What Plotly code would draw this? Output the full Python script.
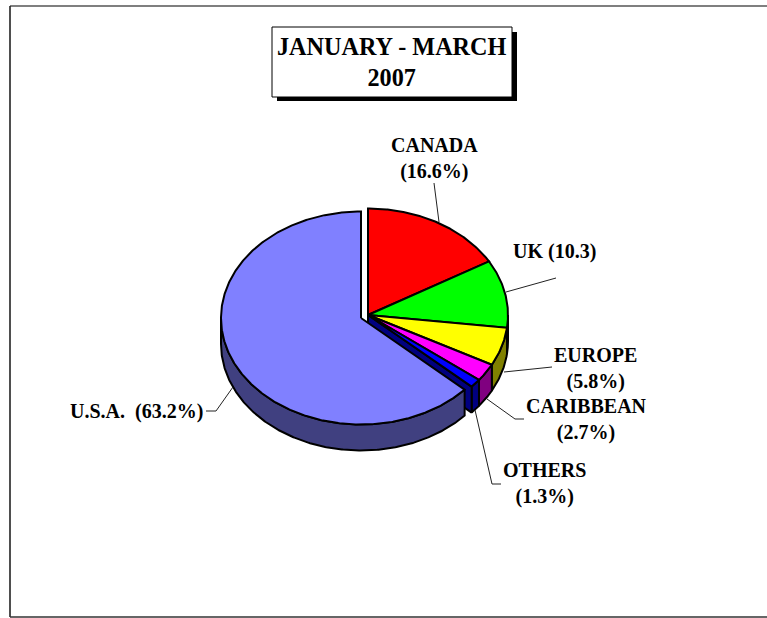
import numpy as np
import plotly.graph_objects as go

# ---- data ----
categories = ["CANADA", "UK", "EUROPE", "CARIBBEAN", "OTHERS", "U.S.A."]
shares = [16.6, 10.3, 5.8, 2.7, 1.3, 63.2]
top_colors = ["#FF0000", "#00FF00", "#FFFF00", "#FF00FF", "#0000FF", "#8080FF"]
side_colors = ["#800000", "#008000", "#808000", "#800080", "#000080", "#404080"]
label_texts = ["CANADA<br>(16.6%)", "UK (10.3)", "EUROPE<br>(5.8%)", "CARIBBEAN<br>(2.7%)",
               "OTHERS<br>(1.3%)", "U.S.A.  (63.2%)"]
title_text = "JANUARY - MARCH<br>2007"

# ---- layout geometry (pixels) ----
CX, CY, RX, RY, DEPTH = 368.0, 315.0, 140.0, 106.5, 26.0
EXPLODE_DX, EXPLODE_DY = -7.0, 3.0
label_xy = [(434.5, 158), (554, 251), (595, 368), (586, 419), (544, 483.5), (136, 411)]
leaders = [
    [(434, 183), (439, 222)],
    [(506, 292), (556, 278)],
    [(504, 372), (552, 367)],
    [(487, 399), (515, 419), (524, 419)],
    [(475, 410), (492, 484), (501, 484)],
    [(233, 387), (216, 411), (206, 411)],
]
FONT = "Liberation Serif"

fig = go.Figure()


def rim(cx, cy, a, b, dz=0.0):
    t = np.radians(np.linspace(a, b, max(2, int(abs(b - a) * 2) + 1)))
    return cx + RX * np.sin(t), cy - RY * np.cos(t) + dz


def poly(x, y, color, name):
    fig.add_trace(go.Scatter(
        x=np.append(x, x[0]), y=np.append(y, y[0]), mode="lines", fill="toself",
        fillcolor=color, line=dict(color="black", width=2), name=name,
        hoverinfo="name", showlegend=False))


total = sum(shares)
edges = np.concatenate([[0], np.cumsum(shares)]) / total * 360.0


def draw_side(i, cx, cy):
    a, b = max(edges[i], 90.0), min(edges[i + 1], 270.0)
    if b <= a:
        return
    x1, y1 = rim(cx, cy, a, b)
    x2, y2 = rim(cx, cy, b, a, DEPTH)
    poly(np.concatenate([x1, x2]), np.concatenate([y1, y2]), side_colors[i], categories[i] + " side")


def draw_top(i, cx, cy):
    x, y = rim(cx, cy, edges[i], edges[i + 1])
    poly(np.concatenate([[cx], x]), np.concatenate([[cy], y]), top_colors[i], categories[i])


last = len(shares) - 1
for i in range(last):
    draw_side(i, CX, CY)
rx_, ry_ = rim(CX, CY, edges[last], edges[last])
poly(np.array([CX, rx_[0], rx_[0], CX]), np.array([CY, ry_[0], ry_[0] + DEPTH, CY + DEPTH]),
     side_colors[last - 1], categories[last - 1] + " cut")
for i in range(last):
    draw_top(i, CX, CY)
draw_side(last, CX + EXPLODE_DX, CY + EXPLODE_DY)
draw_top(last, CX + EXPLODE_DX, CY + EXPLODE_DY)

for pts in leaders:
    fig.add_trace(go.Scatter(x=[p[0] for p in pts], y=[p[1] for p in pts], mode="lines",
                             line=dict(color="#222222", width=1), hoverinfo="skip", showlegend=False))

annotations = [dict(x=x, y=y, xref="x", yref="y", text=f"<b>{t}</b>", showarrow=False,
                    font=dict(family=FONT, size=20, color="black"), align="center")
               for t, (x, y) in zip(label_texts, label_xy)]
annotations.append(dict(x=391.5, y=62, xref="x", yref="y", text=f"<b>{title_text}</b>", showarrow=False,
                        font=dict(family=FONT, size=24.2, color="black"), align="center"))

shapes = [
    dict(type="rect", x0=277, y0=32, x1=517, y1=101, fillcolor="black", line_width=0, layer="below"),
    dict(type="rect", x0=272, y0=27, x1=512, y1=97, fillcolor="white", line=dict(color="black", width=1), layer="below"),
    dict(type="line", x0=10, y0=6, x1=767, y1=6, line=dict(color="black", width=1.2), layer="below"),
    dict(type="line", x0=10, y0=6, x1=10, y1=617, line=dict(color="#222222", width=1.6), layer="below"),
    dict(type="line", x0=10, y0=617, x1=767, y1=617, line=dict(color="#333333", width=1.6), layer="below"),
]

fig.update_layout(
    width=767, height=618, margin=dict(l=0, r=0, t=0, b=0), autosize=False,
    paper_bgcolor="white", plot_bgcolor="white", showlegend=False,
    xaxis=dict(range=[0, 767], visible=False, fixedrange=True),
    yaxis=dict(range=[618, 0], visible=False, fixedrange=True),
    annotations=annotations, shapes=shapes,
)
fig.write_html("out.html", config={"displayModeBar": False},
               post_script="document.body.style.margin='0';document.documentElement.style.overflow='hidden';")
